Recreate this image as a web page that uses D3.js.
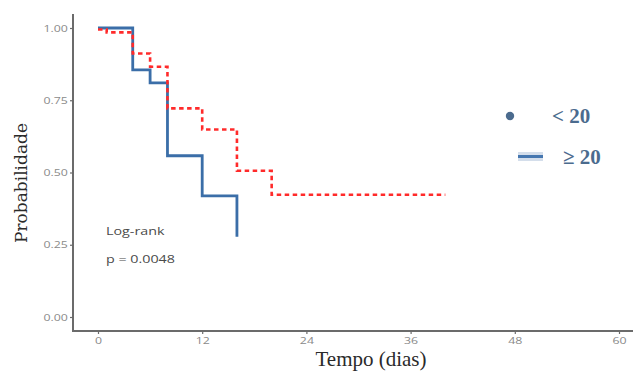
<!DOCTYPE html>
<html>
<head>
<meta charset="utf-8">
<script src="https://cdn.jsdelivr.net/npm/d3@7"></script>
<style>
  html, body { margin: 0; padding: 0; background: #fff; }
  svg { display: block; }
</style>
</head>
<body>
<svg id="chart" width="633" height="372"></svg>
<script>
// Kaplan-Meier estimates (time in days, survival probability)
const timesLow = [0, 4, 6, 8, 12, 16];
const survLow = [1.0, 0.855, 0.81, 0.558, 0.419, 0.278];

const timesHigh = [0, 1, 4, 6, 8, 12, 16, 20, 40];
const survHigh = [0.995, 0.985, 0.912, 0.866, 0.722, 0.649, 0.506, 0.423, 0.423];

const xTicks = [0, 12, 24, 36, 48, 60];
const yTicks = [0, 0.25, 0.5, 0.75, 1.0];
const legendLabels = ["< 20", "\u2265 20"];

const svg = d3.select("#chart");

const x = d3.scaleLinear().domain([0, 60]).range([98, 619]);
const y = d3.scaleLinear().domain([0, 1]).range([317, 28]);

const axisColor = "#6b6b6b";
const tickText = "#8a8a8a";
const sans = "'Open Sans', 'DejaVu Sans', sans-serif";
const wide = 1.3; // horizontal stretch of the small sans labels

// soft rendering filter for the curves
const defs = svg.append("defs");
defs.append("filter").attr("id", "soft")
  .append("feGaussianBlur").attr("stdDeviation", 0.5);

// axes
const yAxis = svg.append("g")
  .attr("transform", "translate(73,0)")
  .call(d3.axisLeft(y).tickValues(yTicks).tickFormat(d3.format(".2f")).tickSize(3).tickPadding(1));
const xAxis = svg.append("g")
  .attr("transform", "translate(0,331)")
  .call(d3.axisBottom(x).tickValues(xTicks).tickSize(3).tickPadding(3));

[yAxis, xAxis].forEach(g => {
  g.select(".domain").remove();
  g.selectAll(".tick line").attr("stroke", axisColor).attr("stroke-width", 1.2);
  g.selectAll(".tick text")
    .attr("fill", tickText)
    .attr("transform", `scale(${wide},1)`)
    .style("font-family", sans)
    .style("font-size", "9.5px");
});

// axis lines
svg.append("line").attr("x1", 73).attr("x2", 73).attr("y1", 14).attr("y2", 331)
  .attr("stroke", axisColor).attr("stroke-width", 2);
svg.append("line").attr("x1", 72).attr("x2", 633).attr("y1", 331).attr("y2", 331)
  .attr("stroke", axisColor).attr("stroke-width", 2);

const line = d3.line()
  .x(d => x(d[0]))
  .y(d => y(d[1]))
  .curve(d3.curveStepAfter);

const lowData = timesLow.map((t, i) => [t, survLow[i]]);
const highData = timesHigh.map((t, i) => [t, survHigh[i]]);

// group < 20 : solid blue
svg.append("path")
  .datum(lowData)
  .attr("d", line)
  .attr("fill", "none")
  .attr("stroke", "#3a6ea8")
  .attr("stroke-width", 2.8)
  .attr("filter", "url(#soft)");

// group >= 20 : dotted red
svg.append("path")
  .datum(highData)
  .attr("d", line)
  .attr("fill", "none")
  .attr("stroke", "#ff2b2b")
  .attr("stroke-width", 2.6)
  .attr("stroke-dasharray", "4.5,3.5")
  .attr("filter", "url(#soft)");

// annotation
const annot = svg.append("g")
  .style("font-family", sans)
  .style("font-size", "11px")
  .attr("fill", "#4a4a4a");
annot.append("text").attr("transform", `translate(106,235) scale(${wide},1)`).text("Log-rank");
annot.append("text").attr("transform", `translate(106,263) scale(${wide},1)`).text("p = 0.0048");

// axis titles
svg.append("text")
  .attr("transform", "translate(27,183) rotate(-90)")
  .attr("text-anchor", "middle")
  .style("font-family", "'DejaVu Serif', 'Liberation Serif', serif")
  .style("font-size", "17px")
  .attr("fill", "#2a2a2a")
  .text("Probabilidade");
svg.append("text")
  .attr("x", 371).attr("y", 366)
  .attr("text-anchor", "middle")
  .style("font-family", "'Liberation Serif', serif")
  .style("font-size", "21px")
  .attr("fill", "#2a2a2a")
  .text("Tempo (dias)");

// legend
const legColor = "#4b6b8e";
const leg = svg.append("g");
leg.append("circle").attr("cx", 510).attr("cy", 116).attr("r", 4.2).attr("fill", legColor);
leg.append("rect").attr("x", 518).attr("y", 152).attr("width", 25).attr("height", 9)
  .attr("fill", "#c9d6e6").attr("opacity", 0.8);
leg.append("line").attr("x1", 518).attr("x2", 543).attr("y1", 156.5).attr("y2", 156.5)
  .attr("stroke", "#4677b0").attr("stroke-width", 3);
leg.selectAll("text.leg")
  .data(legendLabels)
  .join("text")
  .attr("class", "leg")
  .attr("x", (d, i) => i === 0 ? 552 : 563)
  .attr("y", (d, i) => i === 0 ? 123 : 164)
  .style("font-family", "'Liberation Serif', serif")
  .style("font-weight", "bold")
  .style("font-size", "21px")
  .attr("fill", legColor)
  .text(d => d);
</script>
</body>
</html>
